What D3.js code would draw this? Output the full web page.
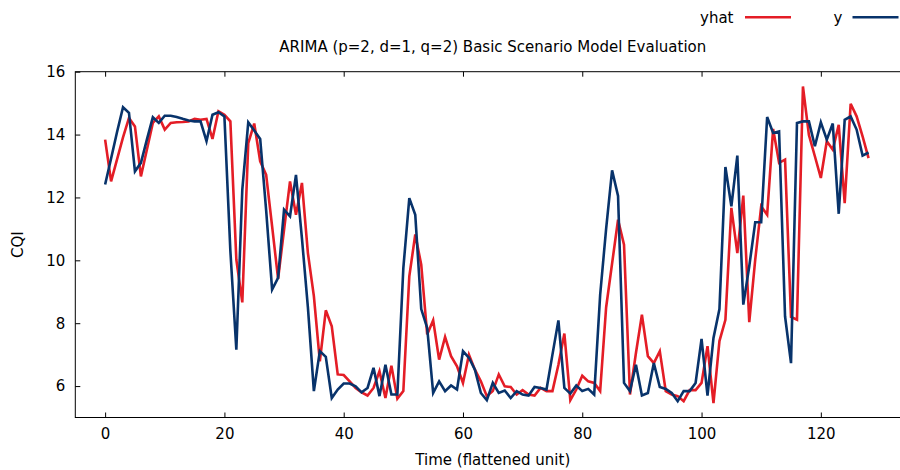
<!DOCTYPE html>
<html>
<head>
<meta charset="utf-8">
<script src="https://cdn.jsdelivr.net/npm/d3@7"></script>
<style>
  html, body { margin: 0; padding: 0; background: #fff; }
  svg { display: block; }
  text { font-family: "DejaVu Sans", "Liberation Sans", Arial, sans-serif; fill: #000; }
</style>
</head>
<body>
<svg id="chart" width="900" height="470"></svg>
<script>
// Observed CQI (y) per time step
const yActual = [
  12.41, 13.24, 14.08, 14.87, 14.69, 12.83, 13.10, 13.84, 14.55, 14.37,
  14.60, 14.60, 14.56, 14.50, 14.45, 14.42, 14.42, 13.79, 14.63, 14.71,
  14.58, 10.30, 7.16, 12.25, 14.39, 14.13, 13.86, 11.59, 9.07, 9.44,
  11.61, 11.40, 12.72, 10.70, 8.50, 5.84, 7.11, 6.93, 5.62, 5.89,
  6.08, 6.08, 5.99, 5.80, 5.94, 6.58, 5.68, 6.68, 5.73, 5.73,
  9.75, 11.98, 11.45, 8.45, 7.85, 5.78, 6.15, 5.84, 6.02, 5.89,
  7.11, 6.90, 6.52, 5.78, 5.55, 6.10, 5.78, 5.86, 5.62, 5.84,
  5.73, 5.70, 5.97, 5.94, 5.89, 7.00, 8.09, 5.94, 5.76, 6.02,
  5.84, 5.91, 5.73, 8.90, 11.00, 12.86, 12.05, 6.10, 5.84, 6.68,
  5.70, 5.78, 6.73, 5.97, 5.91, 5.78, 5.52, 5.84, 5.84, 6.10,
  7.50, 5.70, 7.53, 8.45, 12.97, 11.72, 13.33, 8.59, 9.81, 11.21,
  11.21, 14.56, 14.05, 14.10, 8.22, 6.73, 14.37, 14.42, 14.42, 13.63,
  14.39, 13.84, 14.35, 11.48, 14.47, 14.58, 14.16, 13.33, 13.43
];

// ARIMA(2,1,2) one-step predictions (yhat)
const yHat = [
  13.84, 12.51, 13.21, 13.91, 14.53, 14.26, 12.67, 13.52, 14.37, 14.58,
  14.16, 14.37, 14.39, 14.40, 14.42, 14.50, 14.47, 14.50, 13.86, 14.74,
  14.63, 14.42, 10.02, 8.66, 13.73, 14.35, 13.15, 12.72, 11.08, 9.41,
  10.97, 12.51, 11.45, 12.46, 10.23, 8.86, 6.79, 8.41, 7.90, 6.37,
  6.35, 6.15, 5.94, 5.80, 5.70, 5.94, 6.47, 5.62, 6.65, 5.60,
  5.84, 9.49, 10.82, 9.86, 7.64, 8.09, 6.84, 7.56, 6.95, 6.63,
  6.10, 7.00, 6.52, 6.15, 5.68, 5.84, 6.37, 5.99, 5.97, 5.73,
  5.87, 5.73, 5.70, 5.94, 5.84, 5.84, 6.68, 7.67, 5.55, 5.89,
  6.33, 6.15, 6.10, 5.84, 8.50, 9.90, 11.29, 10.50, 5.73, 7.05,
  8.27, 6.95, 6.73, 7.11, 5.84, 5.73, 5.68, 5.52, 5.87, 5.87,
  6.10, 7.27, 5.46, 7.43, 8.11, 11.67, 10.23, 12.06, 8.03, 10.02,
  11.72, 11.45, 14.18, 13.10, 13.20, 8.20, 8.11, 15.53, 13.99, 13.31,
  12.62, 13.79, 13.52, 14.31, 11.82, 14.98, 14.58, 13.94, 13.25
];

const xTicks = [0, 20, 40, 60, 80, 100, 120];
const yTicks = [6, 8, 10, 12, 14, 16];

const seriesNames = ["yhat", "y"];
const seriesColors = ["#e41d26", "#08336b"];

const svg = d3.select("#chart");

const plot = { left: 75.3, right: 910.3, top: 71.7, bottom: 417.5 };

const x = d3.scaleLinear().domain([-5, 135]).range([plot.left, plot.right]);
const y = d3.scaleLinear().domain([5, 16]).range([plot.bottom, plot.top]);

const fontFamily = "'DejaVu Sans', 'Liberation Sans', Arial, sans-serif";
const fontSize = "15px";

// Frame around the plotting area
svg.append("rect")
  .attr("x", plot.left).attr("y", plot.top)
  .attr("width", plot.right - plot.left)
  .attr("height", plot.bottom - plot.top)
  .attr("fill", "none").attr("stroke", "#000").attr("stroke-width", 1);

// Bottom axis, inward ticks
const gx = svg.append("g")
  .attr("transform", `translate(0,${plot.bottom})`)
  .call(d3.axisBottom(x).tickValues(xTicks).tickSize(-5).tickSizeOuter(0).tickPadding(11));
// Mirrored ticks on top border
const gxTop = svg.append("g")
  .attr("transform", `translate(0,${plot.top})`)
  .call(d3.axisTop(x).tickValues(xTicks).tickSize(-5).tickSizeOuter(0).tickFormat(""));
// Left axis, inward ticks
const gy = svg.append("g")
  .attr("transform", `translate(${plot.left},0)`)
  .call(d3.axisLeft(y).tickValues(yTicks).tickSize(-5).tickSizeOuter(0).tickPadding(10));
// Mirrored ticks on right border
const gyRight = svg.append("g")
  .attr("transform", `translate(${plot.right},0)`)
  .call(d3.axisRight(y).tickValues(yTicks).tickSize(-5).tickSizeOuter(0).tickFormat(""));

[gx, gxTop, gy, gyRight].forEach(g => {
  g.select(".domain").remove();
  g.selectAll(".tick line").attr("stroke", "#000").attr("stroke-width", 1);
  g.selectAll(".tick text")
    .style("font-family", fontFamily)
    .style("font-size", fontSize).attr("fill", "#000");
});

// Series lines: yhat first, y drawn on top
const line = d3.line()
  .x((d, i) => x(i))
  .y(d => y(d));

svg.append("clipPath").attr("id", "plot-clip")
  .append("rect")
  .attr("x", plot.left).attr("y", plot.top)
  .attr("width", plot.right - plot.left)
  .attr("height", plot.bottom - plot.top);

const lines = svg.append("g").attr("clip-path", "url(#plot-clip)");
[yHat, yActual].forEach((series, k) => {
  lines.append("path")
    .datum(series)
    .attr("d", line)
    .attr("fill", "none")
    .attr("stroke", seriesColors[k])
    .attr("stroke-width", 2.6)
    .attr("stroke-linejoin", "miter")
    .attr("stroke-miterlimit", 4);
});

// Title
svg.append("text")
  .attr("x", (plot.left + plot.right) / 2)
  .attr("y", 52)
  .attr("text-anchor", "middle")
  .style("font-size", fontSize)
  .text("ARIMA (p=2, d=1, q=2) Basic Scenario Model Evaluation");

// Axis labels
svg.append("text")
  .attr("x", (plot.left + plot.right) / 2)
  .attr("y", 465)
  .attr("text-anchor", "middle")
  .style("font-size", fontSize)
  .text("Time (flattened unit)");

svg.append("text")
  .attr("transform", `translate(23,${(plot.top + plot.bottom) / 2}) rotate(-90)`)
  .attr("text-anchor", "middle")
  .style("font-size", fontSize)
  .text("CQI");

// Legend, top right
const legendTextRight = [733.5, 842.5];
const legendLineStart = [745, 852.5];
const legend = svg.append("g");
seriesNames.forEach((name, k) => {
  legend.append("text")
    .attr("x", legendTextRight[k])
    .attr("y", 22.5)
    .attr("text-anchor", "end")
    .style("font-size", fontSize)
    .text(name);
  legend.append("line")
    .attr("x1", legendLineStart[k]).attr("x2", legendLineStart[k] + 46)
    .attr("y1", 17.3).attr("y2", 17.3)
    .attr("stroke", seriesColors[k])
    .attr("stroke-width", 2.6);
});
</script>
</body>
</html>
